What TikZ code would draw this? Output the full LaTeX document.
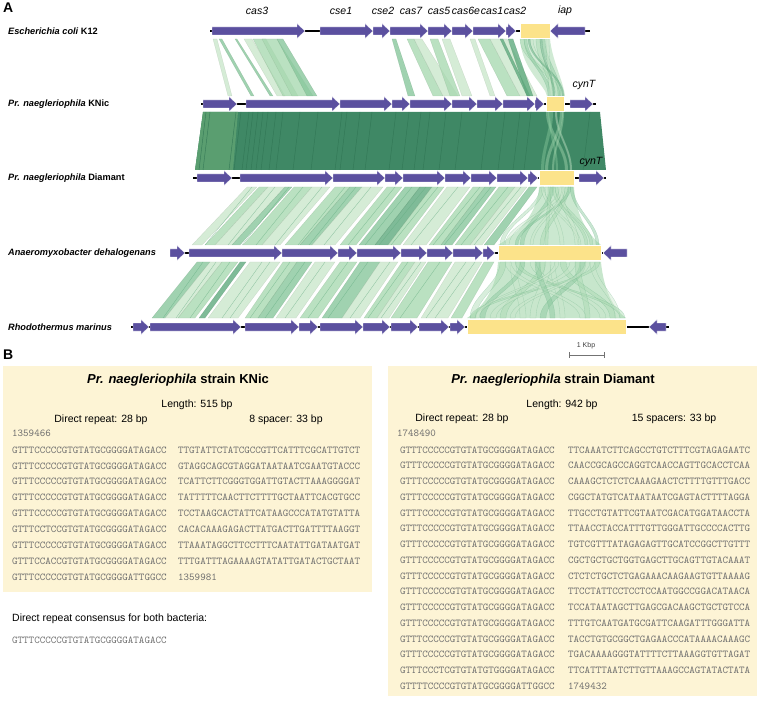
\documentclass[tikz,border=0pt]{standalone}
\usepackage{fontspec}
\setsansfont{Liberation Sans}
\definecolor{genec}{HTML}{5B509F}
\definecolor{boxc}{HTML}{FCE38A}
\definecolor{ga}{HTML}{CBE7CC}
\definecolor{gb}{HTML}{A9D9B1}
\definecolor{gc}{HTML}{88C79C}
\definecolor{gd}{HTML}{5FAA7E}
\definecolor{gdark}{HTML}{3F8865}
\definecolor{gdl}{HTML}{5A9E70}
\definecolor{gline}{HTML}{2E7352}
\definecolor{paneb}{HTML}{FDF4D5}
\definecolor{seqc}{HTML}{6E6E6E}
\newcommand\fgene[3]{\pgfmathsetmacro\hx{max(#1,#2-8)}\path[fill=genec,draw=white,line width=0.4pt] (#1,#3-4) -- (\hx,#3-4) -- (\hx,#3-7.5) -- (#2,#3) -- (\hx,#3+7.5) -- (\hx,#3+4) -- (#1,#3+4) -- cycle;}
\newcommand\rgene[3]{\pgfmathsetmacro\hx{min(#2,#1+8)}\path[fill=genec,draw=white,line width=0.4pt] (#2,#3-4) -- (\hx,#3-4) -- (\hx,#3-7.5) -- (#1,#3) -- (\hx,#3+7.5) -- (\hx,#3+4) -- (#2,#3+4) -- cycle;}
\newcommand\crbox[3]{\path[fill=boxc,draw=white,line width=0.4pt] (#1,#3-7.5) rectangle (#2,#3+7.5);}
\newcommand\bbone[3]{\draw[line width=1.2pt] (#1,#3) -- (#2,#3);}
\newcommand\myband[5]{\path[fill=#5,fill opacity=0.8,draw=#5!75!black,draw opacity=0.35,line width=0.3pt] (#1,\yt) -- (#2,\yt) -- (#4,\yb) -- (#3,\yb) -- cycle;}
\newcommand\strand[4]{\path[fill=#4,fill opacity=0.45,draw=gd,draw opacity=0.35,line width=0.3pt] (#1,\yt) .. controls (#1,\yt+22) and (#2,\yb-22) .. (#2,\yb) -- (#2+#3,\yb) .. controls (#2+#3,\yb-22) and (#1+#3,\yt+22) .. (#1+#3,\yt) -- cycle;}
\tikzset{
  species/.style={anchor=west,inner sep=0pt,font=\sffamily\bfseries\fontsize{9.2}{11}\selectfont},
  genelab/.style={inner sep=0pt,font=\sffamily\itshape\fontsize{10.5}{12}\selectfont},
  panlab/.style={anchor=west,inner sep=0pt,font=\sffamily\bfseries\fontsize{14}{16}\selectfont},
  head/.style={inner sep=0pt,font=\sffamily\bfseries\fontsize{13}{15}\selectfont},
  info/.style={inner sep=0pt,font=\sffamily\fontsize{10.5}{12}\selectfont},
  seq/.style={anchor=west,inner sep=0pt,text=seqc,font=\ttfamily\fontsize{10.5}{12}\selectfont},
}
\begin{document}
\begin{tikzpicture}[x=1pt,y=-1pt]
\useasboundingbox (0,0) rectangle (760,703);
% ---------------- Panel A labels
\node[panlab] (pA) at (3,8) {A};
\node[species] (s1) at (8,31) {\itshape Escherichia coli\/ \upshape K12};
\node[species] (s2) at (8,104) {\itshape Pr. naegleriophila\/ \upshape KNic};
\node[species] (s3) at (8,178) {\itshape Pr. naegleriophila\/ \upshape Diamant};
\node[species] (s4) at (8,253) {\itshape Anaeromyxobacter dehalogenans};
\node[species] (s5) at (8,327) {\itshape Rhodothermus marinus};
% gene labels
\node[genelab] (l1) at (257,11) {cas3};
\node[genelab] (l2) at (341,11) {cse1};
\node[genelab] (l3) at (383,11) {cse2};
\node[genelab] (l4) at (411,11) {cas7};
\node[genelab] (l5) at (439,11) {cas5};
\node[genelab] (l6) at (466,11) {cas6e};
\node[genelab] (l7) at (492,11) {cas1};
\node[genelab] (l8) at (515,11) {cas2};
\node[genelab] (l9) at (565,11) {iap};
\node[genelab] (l10) at (584,85) {cynT};
% ---------------- bands 1 -> 2
\def\yt{39}\def\yb{96}
\myband{213}{217}{228}{232}{ga}
\myband{219}{222}{251}{254}{gc}
\myband{235}{237}{270}{273}{gc}
\myband{244}{252}{277}{285}{ga}
\myband{253}{266}{283}{298}{gb}
\myband{262}{277}{292}{313}{gb}
\myband{277}{283}{307}{317}{gc}
\myband{392}{396}{408}{415}{gc}
\myband{407}{414}{433}{443}{gb}
\myband{414}{422}{443}{458}{ga}
\myband{430}{438}{450}{460}{gb}
\myband{442}{450}{462}{472}{ga}
\myband{470}{475}{490}{495}{ga}
\myband{478}{490}{507}{520}{gb}
\myband{490}{507}{520}{537}{ga}
\myband{500}{503}{527}{530}{gd}
\myband{508}{513}{527}{533}{gd}
\path[fill=gb,fill opacity=0.55] (520,\yt) .. controls (522,70) and (545,85) .. (547,\yb) -- (565,\yb) .. controls (563,80) and (552,60) .. (550,\yt) -- cycle;
\strand{520}{556}{4}{gb}\strand{524}{548}{3}{gc}\strand{530}{560}{3}{ga}
\strand{536}{550}{4}{gb}\strand{542}{558}{3}{gc}\strand{546}{549}{3}{ga}
\strand{528}{562}{2}{gd}\strand{540}{553}{2}{gd}
% ---------------- block 2 -> 3
\def\yt{112}\def\yb{170}
\path[fill=gdark] (203,\yt) -- (600,\yt) -- (606,\yb) -- (195,\yb) -- cycle;
\path[fill=gdl] (203,\yt) -- (238,\yt) -- (233,\yb) -- (195,\yb) -- cycle;
\foreach \x in {206,210,236,241,249,253,258,263,268,276,283,300,318,342,347,360,372,396,409,421,430,446,462,488,505,520,531,590}
  \draw[gline,line width=0.45pt,opacity=0.8] (\x,\yt) -- (\x-7,\yb);
\strand{546}{565}{3}{gb}\strand{550}{541}{3}{gc}\strand{555}{570}{2}{ga}
\strand{560}{545}{3}{gb}\strand{548}{556}{2}{gc}\strand{562}{552}{2}{gb}
\node[genelab] (l11) at (591,162) {cynT};
% ---------------- bands 3 -> 4
\def\yt{187}\def\yb{245}
\myband{247}{257}{192}{202}{ga}
\myband{259}{268}{205}{215}{gb}
\myband{268}{285}{215}{232}{ga}
\myband{285}{292}{232}{240}{gc}
\myband{294}{312}{243}{262}{gb}
\myband{312}{330}{262}{280}{ga}
\myband{335}{350}{285}{300}{gb}
\myband{350}{362}{300}{312}{gc}
\myband{362}{383}{312}{335}{ga}
\myband{387}{402}{340}{356}{gb}
\myband{405}{420}{359}{375}{gc}
\myband{420}{432}{375}{388}{gd}
\myband{432}{444}{388}{400}{gb}
\myband{447}{470}{403}{426}{ga}
\myband{473}{485}{429}{441}{gb}
\myband{485}{496}{441}{452}{gc}
\myband{499}{515}{455}{470}{gb}
\myband{515}{527}{470}{482}{ga}
\myband{529}{537}{484}{494}{gc}
\foreach \x in {252,275,289,303,322,345,356,371,395,412,426,438,458,480,491,508,521}
  \draw[gd,line width=0.35pt,opacity=0.6] (\x,\yt) -- (\x-47,\yb);
\path[fill=gb,fill opacity=0.6] (539,\yt) .. controls (537,220) and (510,238) .. (498,\yb) -- (601,\yb) .. controls (592,238) and (576,220) .. (574,\yt) -- cycle;
\strand{540}{500}{4}{gb}\strand{545}{560}{4}{ga}\strand{550}{520}{4}{gc}
\strand{555}{590}{3}{gb}\strand{560}{505}{4}{ga}\strand{565}{540}{4}{gb}
\strand{570}{596}{3}{gc}\strand{541}{578}{3}{ga}\strand{548}{545}{3}{gb}
\strand{558}{575}{4}{ga}\strand{568}{515}{3}{gc}\strand{552}{585}{3}{gb}
\strand{562}{530}{3}{ga}
% ---------------- bands 4 -> 5
\def\yt{262}\def\yb{318}
\myband{197}{210}{152}{165}{gc}
\myband{210}{222}{165}{178}{ga}
\myband{222}{238}{178}{195}{gb}
\myband{240}{246}{199}{205}{gd}
\myband{250}{280}{208}{238}{ga}
\myband{283}{297}{245}{258}{gb}
\myband{297}{312}{258}{273}{gc}
\myband{315}{335}{276}{296}{ga}
\myband{340}{357}{300}{318}{gb}
\myband{360}{380}{322}{342}{gc}
\myband{380}{398}{342}{360}{ga}
\myband{402}{415}{364}{377}{gb}
\myband{415}{426}{377}{389}{ga}
\myband{428}{452}{391}{417}{gb}
\myband{455}{482}{421}{448}{ga}
\myband{484}{494}{451}{462}{gb}
\foreach \x in {203,216,230,262,270,290,305,325,348,368,390,408,421,440,466,475}
  \draw[gd,line width=0.35pt,opacity=0.6] (\x,\yt) -- (\x-40,\yb);
\path[fill=gb,fill opacity=0.65] (498,\yt) .. controls (496,295) and (476,312) .. (467,\yb) -- (626,\yb) .. controls (617,312) and (604,295) .. (601,\yt) -- cycle;
\strand{500}{470}{6}{gb}\strand{510}{520}{6}{ga}\strand{520}{480}{5}{gc}
\strand{530}{600}{6}{ga}\strand{540}{500}{6}{gb}\strand{550}{560}{5}{ga}
\strand{560}{610}{6}{gb}\strand{570}{490}{6}{ga}\strand{580}{540}{6}{gc}
\strand{590}{615}{5}{ga}\strand{595}{470}{5}{gb}\strand{505}{580}{6}{ga}
\strand{515}{620}{5}{gb}\strand{545}{530}{6}{ga}\strand{575}{585}{5}{gb}
\strand{585}{510}{5}{ga}\strand{535}{550}{5}{gc}\strand{555}{475}{4}{ga}
% ---------------- tracks
% track 1
\bbone{210}{590}{31}
\fgene{212}{305}{31}\fgene{320}{373}{31}\fgene{373}{390}{31}\fgene{390}{428}{31}
\fgene{428}{452}{31}\fgene{452}{473}{31}\fgene{473}{506}{31}\fgene{506}{516}{31}
\crbox{520}{550}{31}\rgene{550}{585}{31}
% track 2
\bbone{201}{596}{104}
\fgene{203}{237}{104}\fgene{246}{340}{104}\fgene{340}{392}{104}\fgene{392}{410}{104}
\fgene{410}{452}{104}\fgene{452}{477}{104}\fgene{477}{503}{104}\fgene{503}{535}{104}
\fgene{535}{544}{104}\crbox{546}{564}{104}\fgene{570}{593}{104}
% track 3
\bbone{193}{606}{178}
\fgene{197}{232}{178}\fgene{240}{333}{178}\fgene{333}{385}{178}\fgene{385}{403}{178}
\fgene{403}{445}{178}\fgene{445}{471}{178}\fgene{471}{497}{178}\fgene{497}{528}{178}
\fgene{528}{538}{178}\crbox{539}{574}{178}\fgene{579}{604}{178}
% track 4
\bbone{170}{603}{253}
\fgene{170}{185}{253}\fgene{189}{282}{253}\fgene{282}{338}{253}\fgene{338}{357}{253}
\fgene{357}{401}{253}\fgene{401}{427}{253}\fgene{427}{453}{253}\fgene{453}{483}{253}
\fgene{483}{495}{253}\crbox{498}{601}{253}\rgene{603}{627}{253}
% track 5
\bbone{131}{669}{327}
\fgene{133}{149}{327}\fgene{150}{241}{327}\fgene{245}{299}{327}\fgene{299}{318}{327}
\fgene{320}{363}{327}\fgene{363}{390}{327}\fgene{391}{418}{327}\fgene{419}{449}{327}
\fgene{450}{465}{327}\crbox{467}{626}{327}\rgene{649}{666}{327}
% scale bar
\node[inner sep=0pt,text=black!75,font=\sffamily\fontsize{7}{8}\selectfont] (kb) at (586,346) {1 Kbp};
\draw[black!55,line width=0.7pt] (569,352) -- (569,358) (569,355) -- (604,355) (604,352) -- (604,358);
% ---------------- Panel B
\node[panlab] (pB) at (3,355) {B};
\path[fill=paneb] (3,366) rectangle (372,592);
\path[fill=paneb] (388,366) rectangle (757,696);
\node[head] (h1) at (178,380) {\itshape Pr. naegleriophila\/ \upshape strain KNic};
\node[info] (i1) at (197,405) {Length: 515 bp};
\node[info] (i2) at (101,420) {Direct repeat: 28 bp};
\node[info] (i3) at (286,420) {8 spacer: 33 bp};
\node[seq] (n1) at (12,433) {1359466};
\foreach \r/\s [count=\i from 0] in {
 GTTTCCCCCGTGTATGCGGGGATAGACC/TTGTATTCTATCGCCGTTCATTTCGCATTGTCT,
 GTTTCCCCCGTGTATGCGGGGATAGACC/GTAGGCAGCGTAGGATAATAATCGAATGTACCC,
 GTTTCCCCCGTGTATGCGGGGATAGACC/TCATTCTTCGGGTGGATTGTACTTAAAGGGGAT,
 GTTTCCCCCGTGTATGCGGGGATAGACC/TATTTTTCAACTTCTTTTGCTAATTCACGTGCC,
 GTTTCCCCCGTGTATGCGGGGATAGACC/TCCTAAGCACTATTCATAAGCCCATATGTATTA,
 GTTTCCTCCGTGTATGCGGGGATAGACC/CACACAAAGAGACTTATGACTTGATTTTAAGGT,
 GTTTCCCCCGTGTATGCGGGGATAGACC/TTAAATAGGCTTCCTTTCAATATTGATAATGAT,
 GTTTCCACCGTGTATGCGGGGATAGACC/TTTGATTTAGAAAAGTATATTGATACTGCTAAT,
 GTTTCCCCCGTGTATGCGGGGATTGGCC/1359981}
{ \node[seq] (kr\i) at (12,450+15.85*\i) {\r};
  \node[seq] (ks\i) at (178,450+15.85*\i) {\s}; }
\node[info,anchor=west] (cons) at (12,619) {Direct repeat consensus for both bacteria:};
\node[seq] (consq) at (12,640) {GTTTCCCCCGTGTATGCGGGGATAGACC};
% right box
\node[head] (h2) at (553,380) {\itshape Pr. naegleriophila\/ \upshape strain Diamant};
\node[info] (j1) at (562,405) {Length: 942 bp};
\node[info] (j2) at (462,419) {Direct repeat: 28 bp};
\node[info] (j3) at (674,419) {15 spacers: 33 bp};
\node[seq] (n2) at (397,433) {1748490};
\foreach \r/\s [count=\i from 0] in {
 GTTTCCCCCGTGTATGCGGGGATAGACC/TTCAAATCTTCAGCCTGTCTTTCGTAGAGAATC,
 GTTTCCCCCGTGTATGCGGGGATAGACC/CAACCGCAGCCAGGTCAACCAGTTGCACCTCAA,
 GTTTCCCCCGTGTATGCGGGGATAGACC/CAAAGCTCTCTCAAAGAACTCTTTTGTTTGACC,
 GTTTCCCCCGTGTATGCGGGGATAGACC/CGGCTATGTCATAATAATCGAGTACTTTTAGGA,
 GTTTCCCCCGTGTATGCGGGGATAGACC/TTGCCTGTATTCGTAATCGACATGGATAACCTA,
 GTTTCCCCCGTGTATGCGGGGATAGACC/TTAACCTACCATTTGTTGGGATTGCCCCACTTG,
 GTTTCCCCCGTGTATGCGGGGATAGACC/TGTCGTTTATAGAGAGTTGCATCCGGCTTGTTT,
 GTTTCCCCCGTGTATGCGGGGATAGACC/CGCTGCTGCTGGTGAGCTTGCAGTTGTACAAAT,
 GTTTCCCCCGTGTATGCGGGGATAGACC/CTCTCTGCTCTGAGAAACAAGAAGTGTTAAAAG,
 GTTTCCCCCGTGTATGCGGGGATAGACC/TTCCTATTCCTCCTCCAATGGCCGGACATAACA,
 GTTTCCCCCGTGTATGCGGGGATAGACC/TCCATAATAGCTTGAGCGACAAGCTGCTGTCCA,
 GTTTCCCCCGTGTATGCGGGGATAGACC/TTTGTCAATGATGCGATTCAAGATTTGGGATTA,
 GTTTCCCCCGTGTATGCGGGGATAGACC/TACCTGTGCGGCTGAGAACCCATAAAACAAAGC,
 GTTTCCCCCGTGTATGCGGGGATAGACC/TGACAAAAGGGTATTTTCTTAAAGGTGTTAGAT,
 GTTTCCCTCGTGTATGTGGGGATAGACC/TTCATTTAATCTTGTTAAAGCCAGTATACTATA,
 GTTTTCCCCGTGTATGCGGGGATTGGCC/1749432}
{ \node[seq] (dr\i) at (400,450+15.75*\i) {\r};
  \node[seq] (ds\i) at (568,450+15.75*\i) {\s}; }
\end{tikzpicture}
\end{document}
